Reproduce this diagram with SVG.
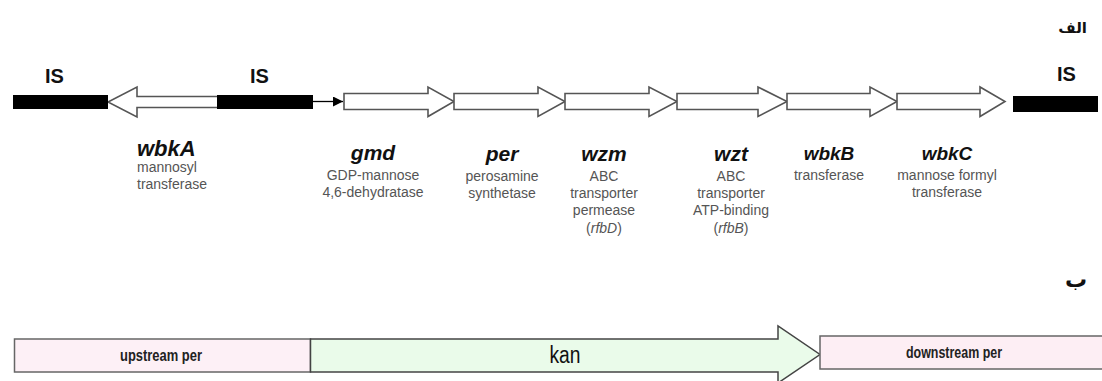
<svg xmlns="http://www.w3.org/2000/svg" width="1102" height="381" viewBox="0 0 1102 381">
<defs>
<style>
.is{font-family:"Liberation Sans",Arial,sans-serif;font-size:20px;font-weight:bold;fill:#111}
.gn{font-family:"Liberation Sans",Arial,sans-serif;font-size:19px;font-weight:bold;font-style:italic;fill:#111;text-anchor:middle}
.ds{font-family:"Liberation Sans",Arial,sans-serif;font-size:14px;fill:#555;text-anchor:middle}
.gene{fill:#fff;stroke:#555;stroke-width:1.6;stroke-linejoin:miter}
.bar{fill:#000}
.lab{font-family:"Liberation Sans",Arial,sans-serif;font-size:16px;font-weight:bold;fill:#222;text-anchor:middle}
.ar{font-family:"DejaVu Sans",sans-serif;font-size:15px;font-weight:bold;fill:#111}
</style>
<marker id="ah" viewBox="0 0 10 10" refX="10" refY="5" markerWidth="10" markerHeight="10" markerUnits="userSpaceOnUse" orient="auto">
<path d="M0,0 L10,5 L0,10 z" fill="#000"/>
</marker>
</defs>
<rect width="1102" height="381" fill="#fff"/>
<text class="ar" x="1087" y="33" text-anchor="end">الف</text>
<text class="ar" x="1087" y="287" text-anchor="end" style="font-size:22px">ب</text>

<g id="connectors">
<line x1="313" y1="101.5" x2="343" y2="101.5" stroke="#000" stroke-width="1.3" marker-end="url(#ah)"/>
</g>

<g id="wbkA">
<polygon class="gene" points="218,96.5 137,96.5 137,87 108,102 137,117 137,107.5 218,107.5"/>
<text class="gn" x="137" y="156" style="text-anchor:start;font-size:22px">wbkA</text>
<text class="ds" x="137" y="172" style="text-anchor:start">mannosyl</text>
<text class="ds" x="137" y="189" style="text-anchor:start">transferase</text>
</g>
<g id="IS1">
<rect class="bar" x="13" y="95" width="95" height="14"/>
<text class="is" x="45" y="83">IS</text>
</g>
<g id="IS2">
<rect class="bar" x="217" y="95" width="96" height="14"/>
<text class="is" x="250" y="83">IS</text>
</g>
<g id="IS3">
<rect class="bar" x="1013" y="96" width="85" height="16"/>
<text class="is" x="1057" y="81">IS</text>
</g>

<g id="gmd">
<polygon class="gene" points="344,93.5 428,93.5 428,87 454,101.5 428,116.5 428,109.5 344,109.5"/>
<text class="gn" x="373" y="160" style="font-size:21px">gmd</text>
<text class="ds" x="373" y="180">GDP-mannose</text>
<text class="ds" x="373" y="197">4,6-dehydratase</text>
</g>
<g id="per">
<polygon class="gene" points="454,93.5 538,93.5 538,87 565,101.5 538,116.5 538,109.5 454,109.5"/>
<text class="gn" x="502" y="161" style="font-size:21px">per</text>
<text class="ds" x="502" y="181">perosamine</text>
<text class="ds" x="502" y="198">synthetase</text>
</g>
<g id="wzm">
<polygon class="gene" points="565,93.5 649,93.5 649,87 677,101.5 649,116.5 649,109.5 565,109.5"/>
<text class="gn" x="604" y="161" style="font-size:21px">wzm</text>
<text class="ds" x="604" y="181">ABC</text>
<text class="ds" x="604" y="198">transporter</text>
<text class="ds" x="604" y="215">permease</text>
<text class="ds" x="604" y="233">(<tspan font-style="italic">rfbD</tspan>)</text>
</g>
<g id="wzt">
<polygon class="gene" points="677,93.5 758,93.5 758,87 787,101.5 758,116.5 758,109.5 677,109.5"/>
<text class="gn" x="731" y="161" style="font-size:21px">wzt</text>
<text class="ds" x="731" y="181">ABC</text>
<text class="ds" x="731" y="198">transporter</text>
<text class="ds" x="731" y="215">ATP-binding</text>
<text class="ds" x="731" y="233">(<tspan font-style="italic">rfbB</tspan>)</text>
</g>
<g id="wbkB">
<polygon class="gene" points="787,93.5 870,93.5 870,87 897,101.5 870,116.5 870,109.5 787,109.5"/>
<text class="gn" x="829" y="160">wbkB</text>
<text class="ds" x="829" y="180">transferase</text>
</g>
<g id="wbkC">
<polygon class="gene" points="897,93.5 980,93.5 980,87 1005,101.5 980,116.5 980,109.5 897,109.5"/>
<text class="gn" x="947" y="160">wbkC</text>
<text class="ds" x="947" y="180">mannose formyl</text>
<text class="ds" x="947" y="197">transferase</text>
</g>

<g id="upstream">
<rect x="14.5" y="339" width="296" height="33" fill="#fdf0f6" stroke="#666" stroke-width="1.5"/>
<text class="lab" x="161" y="361" textLength="82" lengthAdjust="spacingAndGlyphs">upstream per</text>
</g>
<g id="kan">
<polygon points="310.5,339 778,339 778,326 820,354.5 778,383 778,372 310.5,372" fill="#eafbea" stroke="#444" stroke-width="1.5"/>
<text x="565" y="363" font-family="Liberation Sans, Arial, sans-serif" font-size="23" fill="#111" text-anchor="middle" textLength="31" lengthAdjust="spacingAndGlyphs">kan</text>
</g>
<g id="downstream">
<rect x="820" y="336" width="290" height="33" fill="#fdeef4" stroke="#666" stroke-width="1.5"/>
<text class="lab" x="954" y="358" textLength="96" lengthAdjust="spacingAndGlyphs">downstream per</text>
</g>
</svg>
